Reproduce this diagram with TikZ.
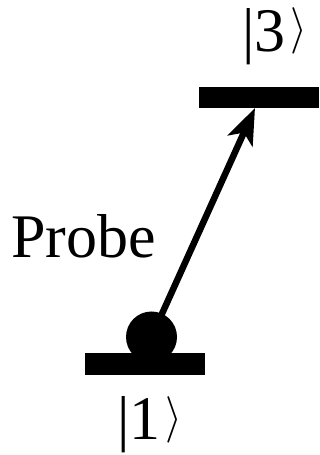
\documentclass[tikz,border=0pt]{standalone}
\usepackage{fontspec}
\setmainfont{Liberation Serif}
\usepackage{graphicx}
\usetikzlibrary{arrows.meta}
\newcommand{\myket}[1]{|#1\hspace{0.08em}\raisebox{8.5pt}{\scalebox{4.3}[4.65]{\fontsize{10}{12}\selectfont$\rangle$}}}
\begin{document}
\begin{tikzpicture}[x=1pt,y=1pt,
  levelbar/.style={fill=black,draw=none,rectangle,inner sep=0pt,minimum width=120pt,minimum height=21.5pt},
  lbl/.style={inner sep=0pt,anchor=base west,font=\fontsize{62}{70}\selectfont},
  atom/.style={circle,fill=black,draw=none,inner sep=0pt,minimum size=51pt},
  probearrow/.style={line width=6.5pt,-{Stealth[length=36pt,width=27pt,inset=9pt]}}]
\useasboundingbox (0,0) rectangle (320,455);
\node[levelbar] (l3) at (259,357.5) {};
\node[levelbar] (l1) at (145,91) {};
\node[atom] (a) at (151.5,118) {};
\coordinate (tip) at (255,347);
\draw[probearrow] (a.center) -- (tip);
\node[lbl] (k3) at (242,403.5) {\myket{3}};
\node[lbl] (k1) at (117,15.5) {\myket{1}};
\node[lbl] (pr) at (11,197) {Probe};
\end{tikzpicture}
\end{document}
